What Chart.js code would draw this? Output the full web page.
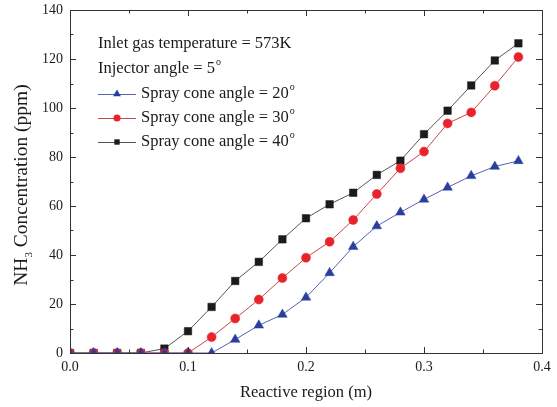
<!DOCTYPE html>
<html>
<head>
<meta charset="utf-8">
<script src="https://cdn.jsdelivr.net/npm/chart.js@4.4.1/dist/chart.umd.min.js"></script>
<style>
  html, body { margin: 0; padding: 0; background: #fff; }
  #wrap { width: 557px; height: 407px; }
</style>
</head>
<body>
<div id="wrap"><canvas id="nh3Chart" width="557" height="407"></canvas></div>
<script>
// reactive region positions (m)
const positions = [0, 0.02, 0.04, 0.06, 0.08, 0.10, 0.12, 0.14, 0.16, 0.18,
                   0.20, 0.22, 0.24, 0.26, 0.28, 0.30, 0.32, 0.34, 0.36, 0.38];

// NH3 concentration (ppm) per spray cone angle
const cone20 = [0, 0, 0, 0, 0, 0, 0, 5.5, 11.3, 15.7, 22.7, 32.7, 43.4, 51.8, 57.4, 62.7, 67.6, 72.3, 76.1, 78.4];
const cone30 = [0, 0, 0, 0, 0, 0, 6.5, 14.1, 21.8, 30.6, 38.9, 45.4, 54.3, 64.9, 75.4, 82.2, 93.7, 98.2, 109.1, 120.8];
const cone40 = [0, 0, 0, 0, 1.8, 8.9, 18.8, 29.4, 37.2, 46.4, 55.0, 60.7, 65.4, 72.7, 78.5, 89.3, 98.9, 109.2, 119.4, 126.4];

const seriesLabels = ['Spray cone angle = 20', 'Spray cone angle = 30', 'Spray cone angle = 40'];
const noteLines = ['Inlet gas temperature = 573K', 'Injector angle = 5'];

const xTicks = [0, 0.1, 0.2, 0.3, 0.4];
const yTicks = [0, 20, 40, 60, 80, 100, 120, 140];

const serif = '"Liberation Serif", "Times New Roman", serif';
const ink = '#1a1a1a';

const toPoints = vals => vals.map((v, i) => ({ x: positions[i], y: v }));

// frame, inward ticks, axis titles and the legend box
const decorations = {
    id: 'decorations',
    afterDraw(chart) {
        const { ctx, chartArea: a, scales: { x, y } } = chart;
        ctx.save();
        ctx.strokeStyle = '#333';
        ctx.lineWidth = 1;
        ctx.strokeRect(Math.round(a.left) + 0.5, Math.round(a.top) + 0.5,
                       Math.round(a.right - a.left), Math.round(a.bottom - a.top));

        ctx.beginPath();
        for (let v = 0; v <= 0.4001; v += 0.05) {
            const px = Math.round(x.getPixelForValue(v)) + 0.5;
            const len = Math.abs(v * 10 - Math.round(v * 10)) < 1e-6 ? 6 : 3.5;
            ctx.moveTo(px, a.bottom); ctx.lineTo(px, a.bottom - len);
            ctx.moveTo(px, a.top); ctx.lineTo(px, a.top + len);
        }
        for (let v = 0; v <= 140; v += 10) {
            const py = Math.round(y.getPixelForValue(v)) + 0.5;
            const len = v % 20 === 0 ? 6 : 3.5;
            ctx.moveTo(a.left, py); ctx.lineTo(a.left + len, py);
            ctx.moveTo(a.right, py); ctx.lineTo(a.right - len, py);
        }
        ctx.stroke();

        // axis titles
        ctx.fillStyle = ink;
        ctx.font = '16.5px ' + serif;
        ctx.textAlign = 'center';
        ctx.textBaseline = 'middle';
        ctx.fillText('Reactive region (m)', (a.left + a.right) / 2, 393);

        ctx.save();
        ctx.translate(22, 185);
        ctx.rotate(-Math.PI / 2);
        ctx.textAlign = 'left';
        const p1 = 'NH', p2 = '3', p3 = ' Concentration (ppm)';
        ctx.font = '19.5px ' + serif;
        const w1 = ctx.measureText(p1).width, w3 = ctx.measureText(p3).width;
        ctx.font = '11px ' + serif;
        const w2 = ctx.measureText(p2).width;
        const sx = -(w1 + w2 + w3) / 2;
        ctx.font = '19.5px ' + serif;
        ctx.fillText(p1, sx, 0);
        ctx.font = '11px ' + serif;
        ctx.fillText(p2, sx + w1, 7);
        ctx.font = '19.5px ' + serif;
        ctx.fillText(p3, sx + w1 + w2, 0);
        ctx.restore();

        // legend text with superscript degree marks
        const drawDeg = (txt, tx, ty) => {
            ctx.font = '16.5px ' + serif;
            ctx.textAlign = 'left';
            ctx.fillText(txt, tx, ty);
            const w = ctx.measureText(txt).width;
            ctx.font = '10px ' + serif;
            ctx.fillText('o', tx + w + 1, ty - 7);
        };
        ctx.fillStyle = ink;
        ctx.font = '16.5px ' + serif;
        ctx.textAlign = 'left';
        ctx.fillText(noteLines[0], 98, 44);
        drawDeg(noteLines[1], 98, 69);

        const legendRadius = [4.5, 3.5, 3.8];
        chart.data.datasets.forEach((ds, i) => {
            const ly = 94 + i * 24;
            ctx.strokeStyle = ds.borderColor;
            ctx.lineWidth = 1;
            ctx.beginPath();
            ctx.moveTo(98, ly + 0.5); ctx.lineTo(136, ly + 0.5);
            ctx.stroke();
            ctx.fillStyle = ds.pointBackgroundColor;
            Chart.helpers.drawPoint(ctx, { pointStyle: ds.pointStyle, radius: legendRadius[i], borderWidth: 0 }, 117, ly);
            ctx.fillStyle = ink;
            drawDeg(seriesLabels[i], 141, ly);
        });
        ctx.restore();
    }
};

const ctx = document.getElementById('nh3Chart').getContext('2d');
new Chart(ctx, {
    type: 'line',
    data: {
        datasets: [
            {
                label: seriesLabels[0],
                data: toPoints(cone20),
                borderColor: '#5563b3',
                pointBackgroundColor: '#2a3f9d',
                pointBorderColor: '#2a3f9d',
                pointStyle: 'triangle',
                pointRadius: 5.5,
                pointBorderWidth: 0.5,
                borderWidth: 1
            },
            {
                label: seriesLabels[1],
                data: toPoints(cone30),
                borderColor: '#c9474a',
                pointBackgroundColor: '#e8232b',
                pointBorderColor: '#e8232b',
                pointStyle: 'circle',
                pointRadius: 4.5,
                pointBorderWidth: 0.5,
                borderWidth: 1
            },
            {
                label: seriesLabels[2],
                data: toPoints(cone40),
                borderColor: '#555',
                pointBackgroundColor: '#1b1b1b',
                pointBorderColor: '#1b1b1b',
                pointStyle: 'rect',
                pointRadius: 5.3,
                pointBorderWidth: 0.5,
                borderWidth: 1
            }
        ]
    },
    options: {
        responsive: false,
        animation: false,
        layout: { padding: { top: 10, right: 15, left: 0, bottom: 0 } },
        plugins: { legend: { display: false }, tooltip: { enabled: false } },
        scales: {
            x: {
                type: 'linear',
                min: 0, max: 0.4,
                afterBuildTicks: s => { s.ticks = xTicks.map(v => ({ value: v })); },
                afterFit: s => { s.height = 54; s.paddingLeft = 0; s.paddingRight = 0; },
                grid: { display: false, drawTicks: false },
                border: { display: false },
                ticks: {
                    color: ink,
                    padding: 6,
                    font: { family: serif, size: 14 },
                    callback: v => v.toFixed(1)
                }
            },
            y: {
                min: 0, max: 140,
                afterBuildTicks: s => { s.ticks = yTicks.map(v => ({ value: v })); },
                afterFit: s => { s.width = 70; s.paddingTop = 0; s.paddingBottom = 0; },
                grid: { display: false, drawTicks: false },
                border: { display: false },
                ticks: {
                    color: ink,
                    padding: 7,
                    font: { family: serif, size: 14 }
                }
            }
        }
    },
    plugins: [decorations]
});
</script>
</body>
</html>
